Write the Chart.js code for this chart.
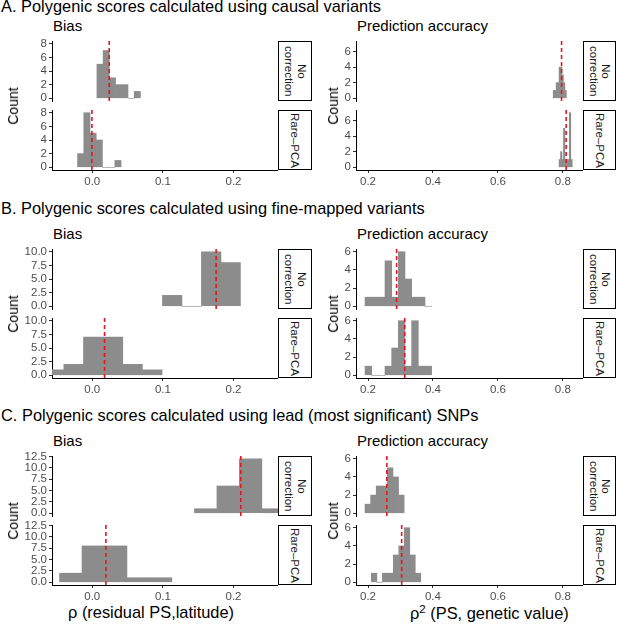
<!DOCTYPE html>
<html>
<head>
<meta charset="utf-8">
<title>Polygenic scores: bias and prediction accuracy</title>
<script src="https://cdn.jsdelivr.net/npm/chart.js@4.4.1/dist/chart.umd.min.js"></script>
<style>
  body { margin: 0; background: #fff; font-family: "Liberation Sans", Arial, Helvetica, sans-serif; }
  #fig { position: relative; width: 617px; height: 625px; overflow: hidden; }
  #fig canvas { position: absolute; }
  .lbl { position: absolute; white-space: nowrap; line-height: 1; color: #000; }
  .head { font-size: 16.4px; left: 1px; }
  .sub { font-size: 15px; }
  .ytitle { font-size: 14px; transform: translate(-50%, -50%) rotate(-90deg); }
  .xtitle { font-size: 16.4px; }
  .xtitle sup { font-size: 0.7em; vertical-align: 0.55em; }
  .strip { position: absolute; box-sizing: border-box; border: 1px solid #000; background: #fff;
           display: flex; align-items: center; justify-content: center; }
  .strip span { writing-mode: vertical-rl; text-align: center; font-size: 11.5px; line-height: 1.1; color: #1a1a1a; }
</style>
</head>
<body>
<div id="fig">
  <div class="lbl head" style="top:-2px">A. Polygenic scores calculated using causal variants</div>
  <div class="lbl head" style="top:200px">B. Polygenic scores calculated using fine-mapped variants</div>
  <div class="lbl head" style="top:407px">C. Polygenic scores calculated using lead (most significant) SNPs</div>

  <div class="lbl sub" style="left:53px;top:18px">Bias</div>
  <div class="lbl sub" style="left:357px;top:18px">Prediction accuracy</div>
  <div class="lbl sub" style="left:53px;top:226px">Bias</div>
  <div class="lbl sub" style="left:357px;top:226px">Prediction accuracy</div>
  <div class="lbl sub" style="left:53px;top:433px">Bias</div>
  <div class="lbl sub" style="left:357px;top:433px">Prediction accuracy</div>

  <div class="lbl xtitle" style="left:68px;top:604px">&rho; (residual PS,latitude)</div>
  <div class="lbl xtitle" style="left:410px;top:604px">&rho;<sup>2</sup> (PS, genetic value)</div>
</div>
<script>
// bias = rho(residual PS, latitude), accuracy = rho^2(PS, genetic value)
// histograms: bin centres (X) and replicate counts (N), 20 replicates per facet
var biasA_noX = [0.0110, 0.0198, 0.0286, 0.0374, 0.0462, 0.0550, 0.0638];
var biasA_noN = [5, 7, 3, 2, 2, 0, 1];
var biasA_pcaX = [-0.0164, -0.0076, 0.0012, 0.0100, 0.0188, 0.0276, 0.0364];
var biasA_pcaN = [2, 8, 5, 4, 0, 0, 1];
var accA_noX = [0.7725, 0.7770, 0.7815, 0.7860, 0.7905, 0.7950, 0.7995, 0.8040, 0.8085];
var accA_noN = [1, 1, 2, 2, 4, 4, 3, 2, 1];
var accA_pcaX = [0.7906, 0.7951, 0.7996, 0.8041, 0.8086, 0.8131, 0.8176, 0.8221, 0.8266];
var accA_pcaN = [1, 2, 1, 5, 1, 1, 1, 7, 1];

var biasB_noX = [0.1132, 0.1408, 0.1684, 0.1960];
var biasB_noN = [2, 0, 10, 8];
var biasB_pcaX = [-0.0541, -0.0263, 0.0015, 0.0293, 0.0571, 0.0849];
var biasB_pcaN = [1, 2, 7, 7, 2, 1];
var accB_X = [0.2011, 0.2216, 0.2421, 0.2626, 0.2831, 0.3036, 0.3241, 0.3446, 0.3651, 0.3856];
var accB_noN = [1, 1, 1, 5, 1, 6, 3, 1, 1, 0];
var accB_pcaN = [1, 0, 0, 1, 3, 6, 1, 6, 1, 1];

var biasC_noX = [0.1606, 0.1924, 0.2242, 0.2560];
var biasC_noN = [1, 6, 12, 1];
var biasC_pcaX = [-0.0304, 0.0014, 0.0332, 0.0650, 0.0968];
var biasC_pcaN = [2, 8, 8, 1, 1];
var accC_noX = [0.1994, 0.2166, 0.2338, 0.2510, 0.2682, 0.2854, 0.3026];
var accC_noN = [1, 2, 3, 3, 5, 4, 2];
var accC_pcaX = [0.2187, 0.2356, 0.2525, 0.2694, 0.2863, 0.3032, 0.3201, 0.3370, 0.3539];
var accC_pcaN = [1, 0, 1, 1, 3, 4, 6, 3, 1];

// dashed red lines (mean per facet), sections A, B, C
var biasMeanNo = [0.024, 0.1754, 0.2103];
var biasMeanPca = [-0.0005, 0.0174, 0.0193];
var accMeanNo = [0.796, 0.288, 0.258];
var accMeanPca = [0.8102, 0.313, 0.3036];

// axes
var biasTicks = [0, 0.1, 0.2];
var accTicks = [0.2, 0.4, 0.6, 0.8];
var biasRange = [-0.057, 0.263];
var accRange = [0.163, 0.862];
var countTicksA = [0, 2, 4, 6, 8];
var countTicksB = [0, 2.5, 5, 7.5, 10];
var countTicksC = [0, 2.5, 5, 7.5, 10, 12.5];
var countTicksAcc = [0, 2, 4, 6];
var facetNames = ["No\ncorrection", "Rare\u2013PCA"];

var FONT = '"Liberation Sans", Arial, Helvetica, sans-serif';
Chart.defaults.font.family = FONT;

var fig = document.getElementById("fig");

var meanLine = {
  id: "meanLine",
  afterDatasetsDraw: function (chart, args, opts) {
    var x = chart.scales.x.getPixelForValue(opts.value);
    var a = chart.chartArea;
    var ctx = chart.ctx;
    ctx.save();
    ctx.beginPath();
    ctx.rect(a.left, a.top, a.right - a.left, a.bottom - a.top);
    ctx.clip();
    ctx.strokeStyle = "#e8141c";
    ctx.lineWidth = 1.6;
    ctx.setLineDash([4, 3]);
    ctx.beginPath();
    ctx.moveTo(x, a.top);
    ctx.lineTo(x, a.bottom);
    ctx.stroke();
    ctx.restore();
  }
};

function fmt(ticks) {
  var dec = ticks.some(function (v) { return v % 1 !== 0; });
  return function (v) { return dec ? v.toFixed(1) : String(v); };
}

function axis(ticks, min, max, label) {
  return {
    type: "linear",
    min: min,
    max: max,
    offset: false,
    afterBuildTicks: function (s) { s.ticks = ticks.map(function (v) { return { value: v }; }); },
    grid: { drawOnChartArea: false, tickLength: 3, tickColor: "#333", tickWidth: 1, offset: false },
    border: { display: true, color: "#000", width: 1 },
    ticks: { color: "#4d4d4d", font: { size: 11.5 }, padding: 2, autoSkip: false, maxRotation: 0, callback: label }
  };
}

function facet(p) {
  var padTop = 10, axisW = 48, axisH = 24;
  var c = document.createElement("canvas");
  c.width = p.w + axisW;
  c.height = p.h + padTop + (p.showX ? axisH : 10);
  c.style.left = (p.x - axisW) + "px";
  c.style.top = (p.y - padTop) + "px";
  fig.appendChild(c);

  var xs = axis(p.xTicks, p.xRange[0], p.xRange[1], function (v) { return v.toFixed(1); });
  xs.display = p.showX;
  if (p.showX) xs.afterFit = function (s) { s.height = axisH; };
  var ys = axis(p.yTicks, p.yRange[0], p.yRange[1], fmt(p.yTicks));
  ys.afterFit = function (s) { s.width = axisW; };

  new Chart(c, {
    type: "bar",
    data: {
      datasets: [{
        data: p.bins.map(function (b, i) { return { x: b, y: p.counts[i] }; }),
        backgroundColor: "#8c8c8c",
        borderWidth: 0,
        barPercentage: 1,
        categoryPercentage: 1,
        clip: 0
      }]
    },
    options: {
      responsive: false,
      animation: false,
      events: [],
      layout: { padding: { top: padTop, bottom: p.showX ? 0 : 10, left: 0, right: 0 } },
      plugins: { legend: { display: false }, tooltip: { enabled: false }, meanLine: { value: p.mean } },
      scales: { x: xs, y: ys }
    },
    plugins: [meanLine]
  });
}

function addStrip(x, y, w, h, text) {
  var d = document.createElement("div");
  d.className = "strip";
  d.style.left = x + "px"; d.style.top = y + "px";
  d.style.width = w + "px"; d.style.height = h + "px";
  var s = document.createElement("span");
  s.innerHTML = text.replace("\n", "<br>");
  d.appendChild(s);
  fig.appendChild(d);
}

function addCount(x, y) {
  var d = document.createElement("div");
  d.className = "lbl ytitle";
  d.style.left = x + "px"; d.style.top = y + "px";
  d.textContent = "Count";
  fig.appendChild(d);
}

var sections = [
  { top: 41,
    bias: [[biasA_noX, biasA_noN], [biasA_pcaX, biasA_pcaN]], biasY: countTicksA,
    acc: [[accA_noX, accA_noN], [accA_pcaX, accA_pcaN]] },
  { top: 249,
    bias: [[biasB_noX, biasB_noN], [biasB_pcaX, biasB_pcaN]], biasY: countTicksB,
    acc: [[accB_X, accB_noN], [accB_X, accB_pcaN]] },
  { top: 456,
    bias: [[biasC_noX, biasC_noN], [biasC_pcaX, biasC_pcaN]], biasY: countTicksC,
    acc: [[accC_noX, accC_noN], [accC_pcaX, accC_pcaN]] }
];

var facetH = 60, gap = 9;
var panels = [
  { key: "bias", x: 52, w: 226, stripW: 34, countX: 13, xTicks: biasTicks, xRange: biasRange,
    means: [biasMeanNo, biasMeanPca] },
  { key: "acc", x: 356, w: 227, stripW: 33, countX: 333, xTicks: accTicks, xRange: accRange,
    means: [accMeanNo, accMeanPca] }
];

sections.forEach(function (sec, k) {
  panels.forEach(function (pn) {
    var hists = sec[pn.key];
    var maxN = Math.max.apply(null, hists[0][1].concat(hists[1][1]));
    var yRange = [-maxN * 0.05, maxN * 1.05];
    var yTicks = pn.key === "bias" ? sec.biasY : countTicksAcc;
    for (var r = 0; r < 2; r++) {
      var y = sec.top + r * (facetH + gap);
      facet({
        x: pn.x, y: y, w: pn.w, h: facetH,
        bins: hists[r][0], counts: hists[r][1], mean: pn.means[r][k],
        xTicks: pn.xTicks, xRange: pn.xRange, yTicks: yTicks, yRange: yRange,
        showX: r === 1
      });
      addStrip(pn.x + pn.w, y, pn.stripW, facetH, facetNames[r]);
    }
    addCount(pn.countX, sec.top + (2 * facetH + gap) / 2);
  });
});
</script>
</body>
</html>
